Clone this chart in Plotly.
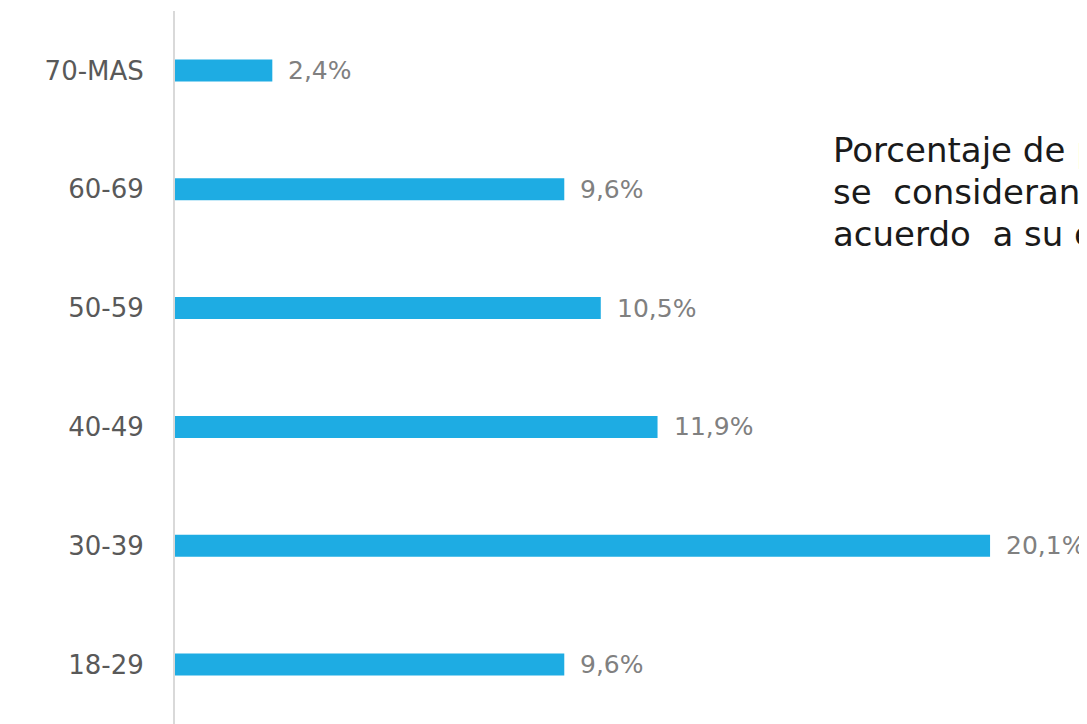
import plotly.graph_objects as go

categories = ["18-29", "30-39", "40-49", "50-59", "60-69", "70-MAS"]
values = [9.6, 20.1, 11.9, 10.5, 9.6, 2.4]
labels = ["9,6%", "20,1%", "11,9%", "10,5%", "9,6%", "2,4%"]
title_lines = ["Porcentaje de personas que",
               "se\u00a0 consideran\u00a0 pobres\u00a0 de",
               "acuerdo\u00a0 a su edad"]

FONT = "DejaVu Sans"
W, H = 1079, 716
ML, MT = 167, 3
PX_PER_UNIT = 40.55
plot_h = H - MT

fig = go.Figure()
fig.add_trace(go.Bar(
    y=categories, x=values, orientation="h",
    marker=dict(color="#1EACE3", line=dict(width=0)),
    width=0.185, hoverinfo="skip",
))

for c, v, t in zip(categories, values, labels):
    fig.add_annotation(x=v, y=c, text=t, showarrow=False, xanchor="left",
                       xshift=14, font=dict(family=FONT, size=25, color="#808080"))

# title lines (page y centres ~150, 192, 234 -> figure y minus 8)
for i, line in enumerate(title_lines):
    fy = 150 - 8 + 42 * i
    fig.add_annotation(xref="paper", yref="paper", x=(823 - ML) / (W - ML),
                       y=1 - (fy - MT) / plot_h, text=line,
                       showarrow=False, xanchor="left", yanchor="middle", align="left",
                       font=dict(family=FONT, size=34, color="#1a1a1a"))

fig.update_layout(
    width=W, height=H,
    margin=dict(l=ML, r=0, t=MT, b=0),
    paper_bgcolor="white", plot_bgcolor="white",
    showlegend=False,
    xaxis=dict(range=[0, (W - ML) / PX_PER_UNIT], visible=False, showgrid=False, zeroline=False),
    yaxis=dict(showgrid=False, zeroline=False, showline=True, linecolor="#D9D9D9",
               linewidth=2, ticks="", ticklabelstandoff=24,
               tickfont=dict(family=FONT, size=26, color="#595959"),
               categoryorder="array", categoryarray=categories),
)

fig.write_html("out.html")
